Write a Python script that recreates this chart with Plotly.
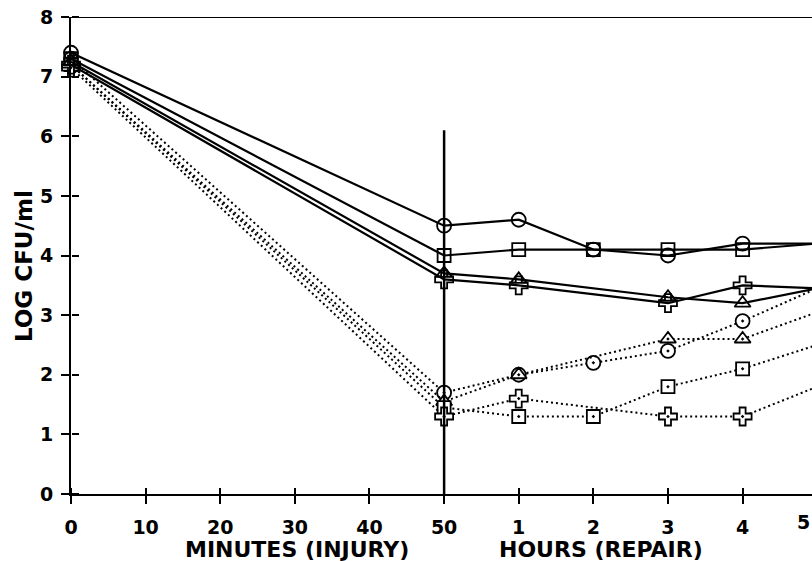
import plotly.graph_objects as go

# Tick labels along the x axis (minutes of injury, then hours of repair)
tick_text = ["0", "10", "20", "30", "40", "50", "1", "2", "3", "4", "5"]
tick_pos = list(range(len(tick_text)))

# Sampling points (index into tick positions): 0 min, 50 min, 1h..5h
time_idx = [0, 5, 6, 7, 8, 9, 10]

# Solid-line series (LOG CFU/ml)
solid_circle = [7.4, 4.5, 4.6, 4.1, 4.0, 4.2, 4.2]
solid_square = [7.3, 4.0, 4.1, 4.1, 4.1, 4.1, 4.2]
solid_triangle = [7.25, 3.7, 3.6, None, 3.3, 3.2, 3.45]
solid_cross = [7.2, 3.6, 3.5, None, 3.2, 3.5, 3.45]

# Dotted-line series
dotted_circle = [7.3, 1.7, 2.0, 2.2, 2.4, 2.9, 3.45]
dotted_triangle = [7.2, 1.55, 2.0, None, 2.6, 2.6, 3.05]
dotted_square = [7.2, 1.45, 1.3, 1.3, 1.8, 2.1, 2.5]
dotted_cross = [7.15, 1.3, 1.6, None, 1.3, 1.3, 1.8]

FONT = "DejaVu Sans"
XMAX = 9.93
fig = go.Figure()


def add(y, symbol, size, dotted):
    xs = [x for x, v in zip(time_idx, y) if v is not None]
    ys = [v for v in y if v is not None]
    if dotted:
        line = dict(color="black", width=2, dash="2px,3px")
        marker = dict(symbol=symbol + "-dot", size=size, color="white",
                      line=dict(color="black", width=1.8))
    else:
        line = dict(color="black", width=2.2)
        marker = dict(symbol=symbol + "-open", size=size, color="black",
                      line=dict(color="black", width=1.8))
    fig.add_trace(go.Scatter(x=xs, y=ys, mode="lines+markers", line=line,
                             marker=marker, cliponaxis=False, showlegend=False))


add(dotted_circle, "circle", 14, True)
add(dotted_triangle, "triangle-up", 14, True)
add(dotted_square, "square", 13, True)
add(dotted_cross, "cross", 15, True)
add(solid_circle, "circle", 14, False)
add(solid_square, "square", 13, False)
add(solid_triangle, "triangle-up", 14, False)
add(solid_cross, "cross", 15, False)

# vertical divider between injury and repair phases
fig.add_shape(type="line", x0=5, x1=5, y0=0, y1=6.1, xref="x", yref="y",
              line=dict(color="black", width=2.5))
# top frame line
fig.add_shape(type="line", x0=0, x1=1, xref="paper", y0=8, y1=8, yref="y",
              line=dict(color="black", width=2))

# invisible trace on overlay axes (second tick set pointing into the plot => crossing ticks)
fig.add_trace(go.Scatter(x=[0], y=[0], xaxis="x2", yaxis="y2", mode="markers",
                         marker=dict(opacity=0), showlegend=False, hoverinfo="skip"))

tickfont = dict(family=FONT, size=19, color="black", weight="bold")
fig.update_layout(
    width=812, height=561,
    margin=dict(l=71, r=0, t=17, b=67),
    paper_bgcolor="white", plot_bgcolor="white",
    xaxis=dict(range=[0, XMAX], tickmode="array", tickvals=tick_pos, ticktext=tick_text,
               showgrid=False, zeroline=False, showline=True, linecolor="black", linewidth=2,
               ticks="outside", ticklen=8, tickwidth=2, tickcolor="black",
               tickfont=tickfont, ticklabelstandoff=7),
    yaxis=dict(range=[0, 8], tickmode="array", tickvals=list(range(9)),
               showgrid=False, zeroline=False, showline=True, linecolor="black", linewidth=2,
               ticks="outside", ticklen=8, tickwidth=2, tickcolor="black",
               tickfont=tickfont, ticklabelstandoff=4),
    xaxis2=dict(range=[0, XMAX], overlaying="x", anchor="free", position=0, side="top",
                tickmode="array", tickvals=tick_pos, ticks="outside", ticklen=6, tickwidth=2,
                tickcolor="black", showticklabels=False, showgrid=False, zeroline=False,
                showline=False),
    yaxis2=dict(range=[0, 8], overlaying="y", anchor="free", position=0, side="right",
                tickmode="array", tickvals=list(range(9)), ticks="outside", ticklen=7, tickwidth=2,
                tickcolor="black", showticklabels=False, showgrid=False, zeroline=False,
                showline=False),
)

# last hour tick label sits at the right edge of the picture
fig.add_annotation(x=1.0, y=0, xref="paper", yref="y", text=tick_text[-1],
                   showarrow=False, font=tickfont, xanchor="right", yanchor="top", yshift=-15)

titlefont = dict(family=FONT, size=22, color="black", weight="bold")
fig.add_annotation(x=3.03, y=-0.117, xref="x", yref="paper", text="MINUTES (INJURY)",
                   showarrow=False, font=titlefont, yanchor="middle")
fig.add_annotation(x=7.1, y=-0.117, xref="x", yref="paper", text="HOURS (REPAIR)",
                   showarrow=False, font=titlefont, yanchor="middle")
fig.add_annotation(x=-0.0634, y=0.478, xref="paper", yref="paper", text="LOG CFU/ml",
                   textangle=-90, showarrow=False,
                   font=dict(family=FONT, size=23, color="black", weight="bold"),
                   xanchor="center", yanchor="middle")

fig.write_html("out.html")
